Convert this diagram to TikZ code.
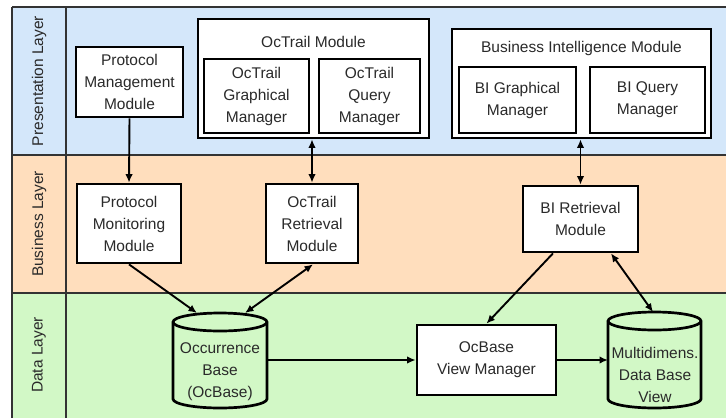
\documentclass[tikz,border=0pt]{standalone}
\usepackage{fontspec}
\setmainfont{Liberation Sans}
\usetikzlibrary{arrows.meta,calc}

\definecolor{presblue}{HTML}{D4E7FA}
\definecolor{busipeach}{HTML}{FFDEBD}
\definecolor{datagreen}{HTML}{D2F8C6}
\definecolor{inktext}{HTML}{2A2A2A}
\definecolor{frameline}{HTML}{333333}

\tikzset{
  label font/.style={font=\fontsize{15.5pt}{22pt}\selectfont, text=inktext},
  modbox/.style={draw=black, line width=2.7pt, fill=white, align=center,
    label font, inner sep=0pt},
  anchorbox/.style={inner sep=0pt, outer sep=0pt},
  dbtext/.style={align=center, label font, inner sep=0pt},
  layername/.style={rotate=90, label font},
  flow/.style={line width=1.9pt, -{Latex[length=8.5pt,width=7.5pt]}},
  flowboth/.style={line width=1.9pt, {Latex[length=8.5pt,width=7.5pt]}-{Latex[length=8.5pt,width=7.5pt]}},
  divider/.style={line width=2pt, draw=frameline},
  cyl/.style={line width=2.7pt, draw=black}
}

\begin{document}
\begin{tikzpicture}[x=1pt, y=-1pt]
\useasboundingbox (0,0) rectangle (726,418);

% layer bands
\fill[presblue]  (12,7)   rectangle (726,155);
\fill[busipeach] (12,155) rectangle (726,293);
\fill[datagreen] (12,293) rectangle (726,418);
\draw[divider] (12,7) -- (726,7);
\draw[divider] (12,155) -- (726,155);
\draw[divider] (12,293) -- (726,293);
\draw[divider] (12,7) -- (12,418);
\draw[divider] (66,7) -- (66,418);

\node[layername] (lpres) at (39,81)  {Presentation Layer};
\node[layername] (lbusi) at (39,224) {Business Layer};
\node[layername] (ldata) at (39,355) {Data Layer};

% presentation layer
\node[modbox, minimum width=107pt, minimum height=70pt] (pmm) at (129.5,82)
  {Protocol\\Management\\Module};

\node[modbox, minimum width=231pt, minimum height=119pt] (oct) at (313.5,78.5) {};
\node[label font] (octtitle) at (313.5,42) {OcTrail Module};
\node[modbox, minimum width=105pt, minimum height=74pt] (octg) at (256.5,96)
  {OcTrail\\Graphical\\Manager};
\node[modbox, minimum width=101pt, minimum height=74pt] (octq) at (369.5,96)
  {OcTrail\\Query\\Manager};

\node[modbox, minimum width=259pt, minimum height=109pt] (bim) at (581.5,83.5) {};
\node[label font] (bimtitle) at (581.5,48) {Business Intelligence Module};
\node[modbox, minimum width=117pt, minimum height=66pt] (big) at (517.5,100)
  {BI Graphical\\Manager};
\node[modbox, minimum width=115pt, minimum height=66pt] (biq) at (647.5,100)
  {BI Query\\Manager};

% business layer
\node[modbox, minimum width=104pt, minimum height=79pt] (pmon) at (129,223.5)
  {Protocol\\Monitoring\\Module};
\node[modbox, minimum width=92pt, minimum height=79pt] (octr) at (312,223.5)
  {OcTrail\\Retrieval\\Module};
\node[modbox, minimum width=115pt, minimum height=66pt] (bir) at (580.5,219)
  {BI Retrieval\\Module};

% data layer
\node[modbox, minimum width=139pt, minimum height=70pt] (ovm) at (486.5,360)
  {OcBase\\View Manager};

\node[anchorbox, minimum width=94pt, minimum height=95pt] (occ) at (220,360.5) {};
\draw[cyl, fill=datagreen]
  ([yshift=-9pt]occ.north west) -- ([yshift=9pt]occ.south west)
  arc[start angle=180, end angle=360, x radius=47pt, y radius=9pt]
  -- ([yshift=-9pt]occ.north east)
  arc[start angle=0, end angle=180, x radius=47pt, y radius=9pt] -- cycle;
\draw[cyl] ([yshift=-9pt]occ.north west)
  arc[start angle=180, end angle=360, x radius=47pt, y radius=9pt];
\node[dbtext] (occtext) at (220,372) {Occurrence\\Base\\(OcBase)};

\node[anchorbox, minimum width=93pt, minimum height=96pt] (mdv) at (654.5,360) {};
\draw[cyl, fill=datagreen]
  ([yshift=-9pt]mdv.north west) -- ([yshift=9pt]mdv.south west)
  arc[start angle=180, end angle=360, x radius=46.5pt, y radius=9pt]
  -- ([yshift=-9pt]mdv.north east)
  arc[start angle=0, end angle=180, x radius=46.5pt, y radius=9pt] -- cycle;
\draw[cyl] ([yshift=-9pt]mdv.north west)
  arc[start angle=180, end angle=360, x radius=46.5pt, y radius=9pt];
\node[dbtext] (mdvtext) at (655,375) {Multidimens.\\Data Base\\View};

% connectors
\draw[flow] (pmm.south) -- (pmon.north);
\draw[flowboth] (oct.south -| octr.north) -- (octr.north);
\draw[flowboth] (bim.south -| bir.north) -- (bir.north);
\draw[flow] (pmon.south) -- ([xshift=-23pt]occ.north);
\draw[flowboth] ([xshift=1pt]octr.south) -- ([xshift=25pt]occ.north);
\draw[flow] ([xshift=-27.5pt]bir.south) -- (ovm.north);
\draw[flowboth] ([xshift=30.5pt]bir.south) -- ([xshift=-1.5pt]mdv.north);
\draw[flow] (ovm.west -| occ.east) -- (ovm.west);
\draw[flow] (ovm.east) -- (ovm.east -| mdv.west);
\end{tikzpicture}
\end{document}
